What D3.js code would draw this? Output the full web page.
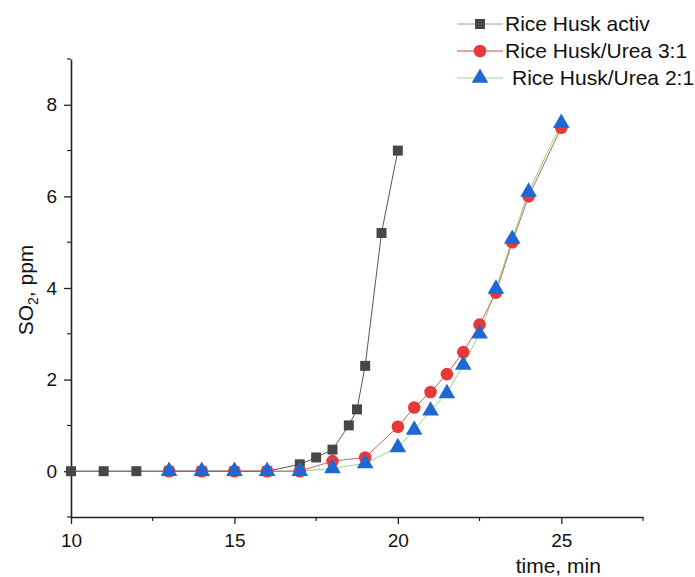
<!DOCTYPE html>
<html>
<head>
<meta charset="utf-8">
<script src="https://cdn.jsdelivr.net/npm/d3@7"></script>
<style>
  body { margin: 0; background: #fff; }
  text { font-family: "Liberation Sans", Arial, sans-serif; fill: #111; }
</style>
</head>
<body>
<div id="chart"></div>
<script>
// Data
const activTimes = [10, 11, 12, 13, 14, 15, 16, 17, 17.5, 18, 18.5, 18.75, 19, 19.5, 20];
const activSO2 = [0, 0, 0, 0, 0, 0, 0, 0.15, 0.3, 0.47, 1.0, 1.35, 2.3, 5.2, 7.0];

const urea31Times = [13, 14, 15, 16, 17, 18, 19, 20, 20.5, 21, 21.5, 22, 22.5, 23, 23.5, 24, 25];
const urea31SO2 = [0, 0, 0, 0, 0, 0.22, 0.3, 0.97, 1.39, 1.73, 2.12, 2.6, 3.2, 3.9, 5.0, 6.0, 7.5];

// green line starts at 10, triangles only from 13 on
const urea21Times = [10, 11, 12, 13, 14, 15, 16, 17, 18, 19, 20, 20.5, 21, 21.5, 22, 22.5, 23, 23.5, 24, 25];
const urea21SO2 = [0, 0, 0, 0, 0, 0, 0, 0, 0.06, 0.17, 0.52, 0.9, 1.32, 1.7, 2.32, 3.0, 3.98, 5.07, 6.1, 7.6];
const urea21FirstMarker = 13;

const seriesNames = ["Rice Husk activ", "Rice Husk/Urea 3:1", "Rice Husk/Urea 2:1"];
const xTicks = [10, 15, 20, 25];
const xMinor = [12.5, 17.5, 22.5, 27.5];
const yTicks = [0, 2, 4, 6, 8];
const yMinor = [-1, 1, 3, 5, 7, 9];

const width = 695, height = 577;
const margin = { top: 59, right: 52, bottom: 60, left: 71 };

const svg = d3.select("#chart").append("svg")
    .attr("width", width)
    .attr("height", height);

const x = d3.scaleLinear().domain([10, 27.5]).range([margin.left, width - margin.right]);
const y = d3.scaleLinear().domain([-1, 9]).range([height - margin.bottom, margin.top]);

// Axes
const xAxis = svg.append("g")
    .attr("transform", `translate(0,${y(-1)})`)
    .call(d3.axisBottom(x).tickValues(xTicks).tickSize(7).tickSizeOuter(0).tickPadding(10));
xAxis.selectAll(".tick text").attr("font-size", 19);
xAxis.append("g").selectAll("line").data(xMinor).join("line")
    .attr("x1", d => x(d)).attr("x2", d => x(d))
    .attr("y1", 0).attr("y2", 4).attr("stroke", "currentColor");

const yAxis = svg.append("g")
    .attr("transform", `translate(${x(10)},0)`)
    .call(d3.axisLeft(y).tickValues(yTicks).tickSize(7).tickSizeOuter(0).tickPadding(7));
yAxis.selectAll(".tick text").attr("font-size", 19);
yAxis.append("g").selectAll("line").data(yMinor).join("line")
    .attr("y1", d => y(d)).attr("y2", d => y(d))
    .attr("x1", 0).attr("x2", -4).attr("stroke", "currentColor");

svg.selectAll(".domain").attr("stroke-width", 1.6).attr("stroke", "#222");
svg.selectAll(".tick line").attr("stroke-width", 1.3).attr("stroke", "#222");

// Axis titles
svg.append("text")
    .attr("x", x(25) - 3)
    .attr("y", 573)
    .attr("text-anchor", "middle")
    .attr("font-size", 21)
    .text("time, min");

const yt = svg.append("text")
    .attr("transform", `translate(33,${y(4) + 2}) rotate(-90)`)
    .attr("text-anchor", "middle")
    .attr("font-size", 21);
yt.append("tspan").text("SO");
yt.append("tspan").attr("font-size", 14).attr("dy", 5).text("2");
yt.append("tspan").attr("dy", -5).text(", ppm");

// Series
const toPts = (ts, vs) => ts.map((t, i) => ({ t, v: vs[i] }));
const activ = toPts(activTimes, activSO2);
const u31 = toPts(urea31Times, urea31SO2);
const u21 = toPts(urea21Times, urea21SO2);

const line = d3.line().x(d => x(d.t)).y(d => y(d.v));

const styles = [
    { line: "#444", legendLine: "#a0a0a0", fill: "#474747", sym: d3.symbolSquare, size: 100 },
    { line: "#c0504d", legendLine: "#c0504d", fill: "#e8393a", sym: d3.symbolCircle, size: 125 },
    { line: "#7ad67a", legendLine: "#8fdc8f", fill: "#1f67d2", sym: d3.symbolTriangle, size: 120 }
];

function drawSeries(pts, st, markerPts) {
    svg.append("path")
        .datum(pts)
        .attr("fill", "none")
        .attr("stroke", st.line)
        .attr("stroke-width", 0.9)
        .attr("d", line);
    svg.append("g").selectAll("path").data(markerPts).join("path")
        .attr("transform", d => `translate(${x(d.t)},${y(d.v)})`)
        .attr("d", d3.symbol().type(st.sym).size(st.size))
        .attr("fill", st.fill);
}

drawSeries(u21, styles[2], []);
drawSeries(activ, styles[0], activ);
drawSeries(u31, styles[1], u31);
svg.append("g").selectAll("path").data(u21.filter(d => d.t >= urea21FirstMarker)).join("path")
    .attr("transform", d => `translate(${x(d.t)},${y(d.v)})`)
    .attr("d", d3.symbol().type(styles[2].sym).size(styles[2].size))
    .attr("fill", styles[2].fill);

// Legend
const legend = svg.append("g").attr("transform", "translate(457,24)");
seriesNames.forEach((name, i) => {
    const g = legend.append("g").attr("transform", `translate(0,${i * 27})`);
    g.append("line").attr("x1", 0).attr("x2", 46).attr("y1", 0).attr("y2", 0)
        .attr("stroke", styles[i].legendLine).attr("stroke-width", 1);
    g.append("path").attr("transform", "translate(23,0)")
        .attr("d", d3.symbol().type(styles[i].sym).size(styles[i].size))
        .attr("fill", styles[i].fill);
    g.append("text").attr("x", i === 2 ? 55 : 48).attr("y", 0).attr("dy", "0.35em")
        .attr("font-size", 21).text(name);
});
</script>
</body>
</html>
